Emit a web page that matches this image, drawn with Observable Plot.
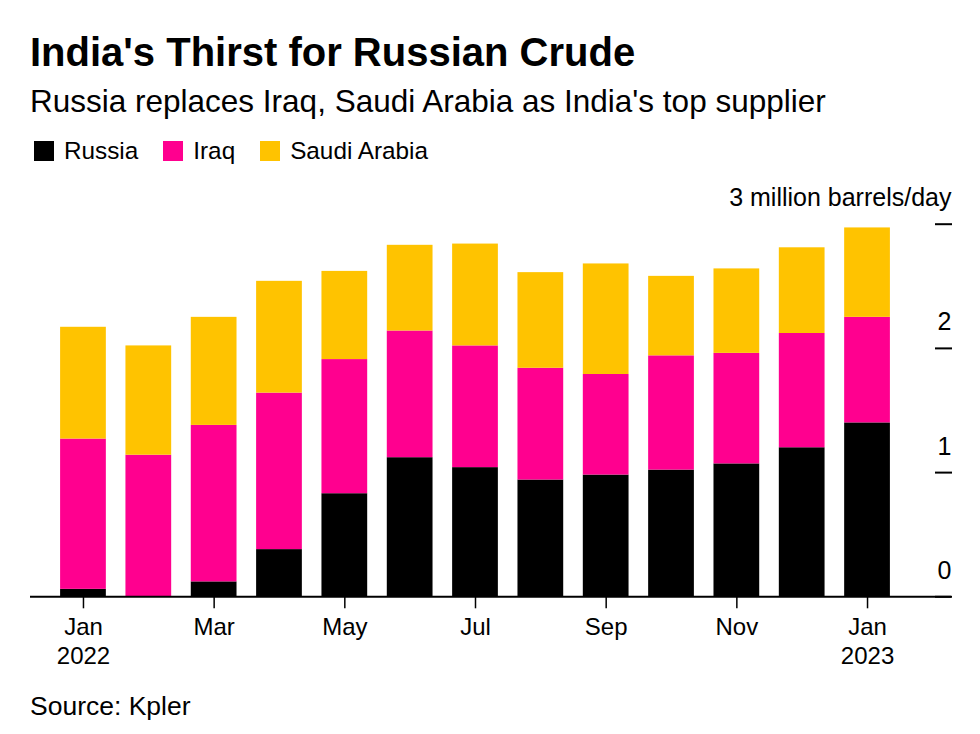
<!DOCTYPE html>
<html><head><meta charset="utf-8">
<script src="https://cdn.jsdelivr.net/npm/d3@7"></script>
<script src="https://cdn.jsdelivr.net/npm/@observablehq/plot@0.6"></script>
<style>
body{margin:0;background:#fff;font-family:"Liberation Sans",Arial,sans-serif;color:#000;}
#wrap{position:relative;width:980px;height:734px;overflow:hidden;background:#fff}
.title{position:absolute;left:30px;top:28px;font-size:40px;font-weight:bold;line-height:48px;white-space:nowrap}
.subtitle{position:absolute;left:30px;top:83px;font-size:31.5px;line-height:36px;white-space:nowrap}
.legend{position:absolute;left:34px;top:137px;font-size:24.3px;line-height:28px;white-space:nowrap;display:flex;align-items:center}
.legend .item{display:flex;align-items:center;margin-right:25px}
.legend .sw{width:20px;height:20px;margin-right:10px}
#chart{position:absolute;left:0;top:170px}
.source{position:absolute;left:30px;top:690px;font-size:26.5px;line-height:32px;white-space:nowrap}
</style></head><body>
<div id="wrap">
<div class="title">India's Thirst for Russian Crude</div>
<div class="subtitle">Russia replaces Iraq, Saudi Arabia as India's top supplier</div>
<div class="legend" id="legend"></div>
<div id="chart"></div>
<div class="source">Source: Kpler</div>
</div>
<script>
const months = ["2022-01","2022-02","2022-03","2022-04","2022-05","2022-06","2022-07","2022-08","2022-09","2022-10","2022-11","2022-12","2023-01"];
const tickMonths = ["2022-01","2022-03","2022-05","2022-07","2022-09","2022-11","2023-01"];
const tickLabels = ["Jan\n2022","Mar","May","Jul","Sep","Nov","Jan\n2023"];
const series = ["Russia","Iraq","Saudi Arabia"];
const colors = ["#000000","#ff008f","#ffc300"];
const russia = [0.06, 0.00, 0.12, 0.38, 0.83, 1.12, 1.04, 0.94, 0.98, 1.02, 1.07, 1.20, 1.40];
const iraq   = [1.21, 1.14, 1.26, 1.26, 1.08, 1.02, 0.98, 0.90, 0.81, 0.92, 0.89, 0.92, 0.85];
const saudi  = [0.90, 0.88, 0.87, 0.90, 0.71, 0.69, 0.82, 0.77, 0.89, 0.64, 0.68, 0.69, 0.72];
const yTicks = [0, 1, 2, 3];
const yTickLabels = ["0", "1", "2", "3 million barrels/day"];

const values = [russia, iraq, saudi];
const rows = [];
months.forEach((m, i) => {
  series.forEach((s, j) => rows.push({month: m, series: s, value: values[j][i]}));
});

// legend
const legend = document.getElementById("legend");
series.forEach((s, j) => {
  const it = document.createElement("div");
  it.className = "item";
  it.innerHTML = `<span class="sw" style="background:${colors[j]}"></span><span>${s}</span>`;
  legend.appendChild(it);
});

const chart = Plot.plot({
  width: 980,
  height: 500,
  marginLeft: 30,
  marginRight: 29,
  marginTop: 53.7,
  marginBottom: 73.7,
  style: {fontFamily: '"Liberation Sans", Arial, sans-serif', fontSize: "24px", color: "#000", background: "transparent", overflow: "visible"},
  x: {type: "band", domain: months, range: [40.5, 909.5], padding: 0.3, round: false},
  y: {domain: [0, 3]},
  color: {domain: series, range: colors},
  marks: [
    Plot.barY(rows, {x: "month", y: "value", fill: "series"}),
    Plot.ruleY([0], {stroke: "#000", strokeWidth: 2}),
    Plot.axisX({ticks: tickMonths, tickFormat: d => tickLabels[tickMonths.indexOf(d)], tickSize: 12, tickPadding: 6, label: null, lineHeight: 1.2, strokeWidth: 1.5}),
    Plot.axisY({anchor: "right", ticks: yTicks, tickSize: 17, dx: -17, tickFormat: () => "", label: null, strokeWidth: 2}),
    Plot.text(yTicks, {y: d => d, text: (d, i) => yTickLabels[i], frameAnchor: "right", textAnchor: "end", dy: -26, fontSize: 25})
  ]
});
document.getElementById("chart").appendChild(chart);
</script>
</body></html>
